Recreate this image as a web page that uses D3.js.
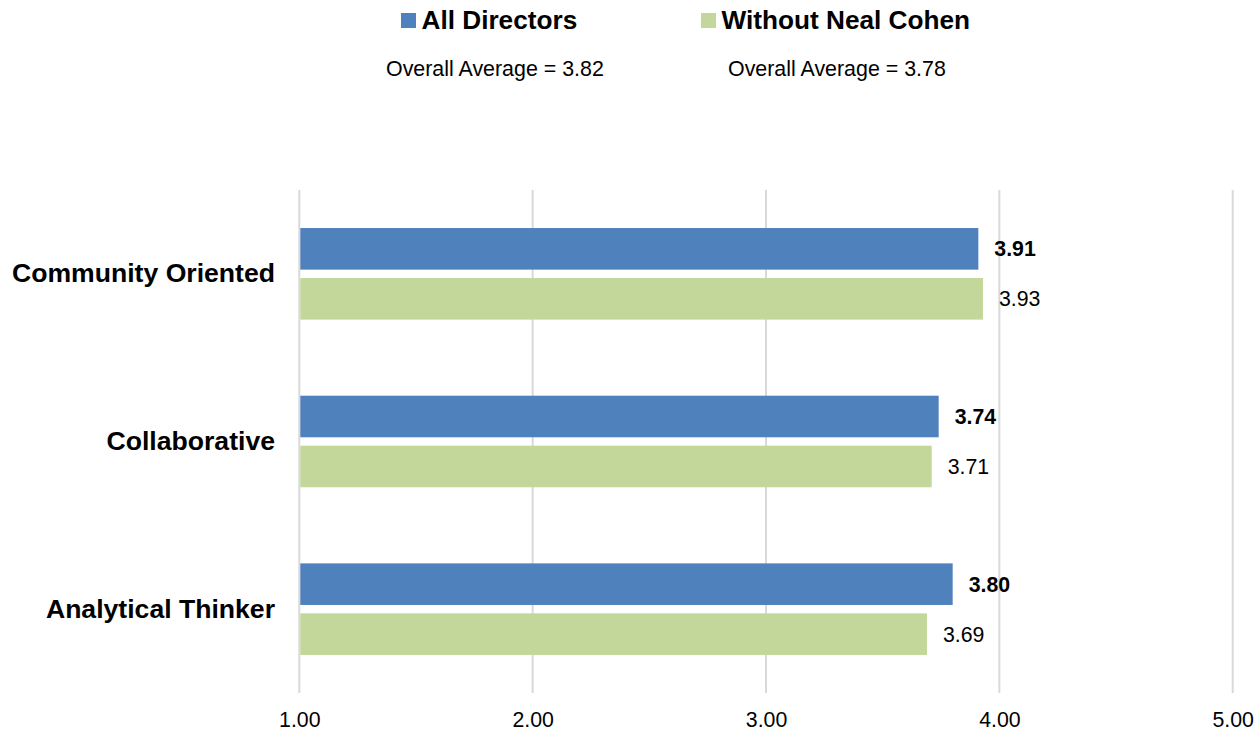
<!DOCTYPE html>
<html>
<head>
<meta charset="utf-8">
<script src="https://cdn.jsdelivr.net/npm/d3@7"></script>
<style>
  body { margin: 0; background: #fff; }
  svg { display: block; font-family: "Liberation Sans", Arial, sans-serif; }
</style>
</head>
<body>
<svg id="chart" width="1258" height="731"></svg>
<script>
const categories = ["Community Oriented", "Collaborative", "Analytical Thinker"];
const seriesNames = ["All Directors", "Without Neal Cohen"];
const allDirectors = [3.91, 3.74, 3.80];
const withoutNealCohen = [3.93, 3.71, 3.69];
const overallAverages = ["Overall Average = 3.82", "Overall Average = 3.78"];
const xTicks = [1, 2, 3, 4, 5];
const colors = ["#4f81bd", "#c4d79b"];

const seriesValues = [allDirectors, withoutNealCohen];
const svg = d3.select("#chart");

const x = d3.scaleLinear().domain([1, 5]).range([299.3, 1232.7]);
const y = d3.scaleBand().domain(categories).range([190, 693]).padding(0);
const yInner = d3.scaleBand().domain(seriesNames).range([0, y.bandwidth()])
  .paddingInner(0.168).paddingOuter(0.761);

// gridlines
svg.append("g").selectAll("line").data(xTicks).join("line")
  .attr("x1", d => x(d)).attr("x2", d => x(d))
  .attr("y1", 190).attr("y2", 693)
  .attr("stroke", "#d9d9d9").attr("stroke-width", 2);

// x axis labels
const xAxis = d3.axisBottom(x).tickValues(xTicks).tickFormat(d3.format(".2f")).tickSize(0).tickPadding(0);
const gx = svg.append("g").attr("transform", "translate(0,693)").call(xAxis);
gx.select(".domain").remove();
gx.selectAll("text").attr("dy", null).attr("y", 34).attr("font-size", "21.3px")
  .attr("fill", "#000").attr("font-family", "'Liberation Sans', Arial, sans-serif");

// bars
const rows = [];
categories.forEach((c, i) => {
  seriesNames.forEach((s, j) => rows.push({ cat: c, ser: s, j, v: seriesValues[j][i] }));
});

svg.append("g").selectAll("rect").data(rows).join("rect")
  .attr("x", x(1) + 1)
  .attr("y", d => y(d.cat) + yInner(d.ser))
  .attr("width", d => x(d.v) - x(1) - 1)
  .attr("height", yInner.bandwidth())
  .attr("fill", d => colors[d.j]);

// value labels
svg.append("g").selectAll("text").data(rows).join("text")
  .attr("x", d => x(d.v) + 16)
  .attr("y", d => y(d.cat) + yInner(d.ser) + yInner.bandwidth() / 2)
  .attr("dy", "0.35em")
  .attr("font-size", "21.3px")
  .attr("font-weight", d => d.j === 0 ? "bold" : "normal")
  .attr("fill", "#000")
  .text(d => d3.format(".2f")(d.v));

// category labels
const yAxis = d3.axisLeft(y).tickSize(0).tickPadding(0);
const gy = svg.append("g").attr("transform", "translate(275,0)").call(yAxis);
gy.select(".domain").remove();
gy.selectAll("text").attr("font-size", "26.6px").attr("font-weight", "bold")
  .attr("fill", "#000").attr("font-family", "'Liberation Sans', Arial, sans-serif");

// legend
const legendX = [401, 701];
const avgX = [386, 728];
const lg = svg.append("g");
seriesNames.forEach((s, j) => {
  lg.append("rect").attr("x", legendX[j]).attr("y", 13).attr("width", 15).attr("height", 15)
    .attr("fill", colors[j]);
  lg.append("text").attr("x", legendX[j] + 20.5).attr("y", 29)
    .attr("font-size", "26.2px").attr("font-weight", "bold").attr("fill", "#000").text(s);
  lg.append("text").attr("x", avgX[j]).attr("y", 76)
    .attr("font-size", "21.4px").attr("fill", "#000").text(overallAverages[j]);
});
</script>
</body>
</html>
